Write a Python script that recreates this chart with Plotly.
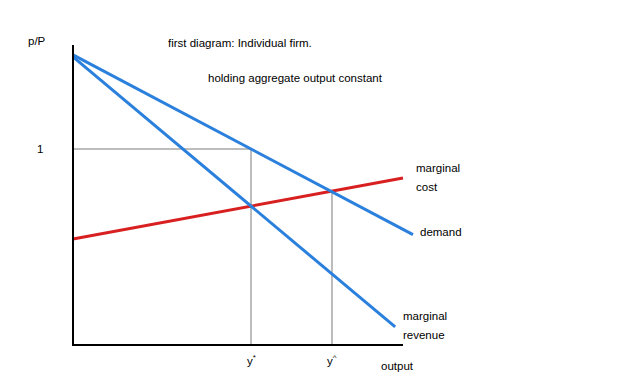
import plotly.graph_objects as go

# Data (economic units: output on x, p/P on y)
demand_x = [0.0, 1.91]
demand_y = [1.48, 0.563]
mr_x = [0.0, 1.81]
mr_y = [1.47, 0.092]
mc_x = [0.0, 1.854]
mc_y = [0.541, 0.852]
y_star = 1.0
y_hat = 1.455
price_one = 1.0
mc_at_yhat = 0.785
axis_x_max = 1.854
axis_y_max = 1.53

FONT = "Liberation Sans, Arial, sans-serif"
BLUE = "#2a80dc"
RED = "#d82020"
GRAY = "#7a7a7a"

fig = go.Figure()

# guide lines
fig.add_trace(go.Scatter(x=[0, y_star, y_star], y=[price_one, price_one, 0], mode="lines",
                         line=dict(color=GRAY, width=1), hoverinfo="skip"))
fig.add_trace(go.Scatter(x=[y_hat, y_hat], y=[mc_at_yhat, 0], mode="lines",
                         line=dict(color=GRAY, width=1), hoverinfo="skip"))

# curves
fig.add_trace(go.Scatter(x=mc_x, y=mc_y, mode="lines", line=dict(color=RED, width=3)))
fig.add_trace(go.Scatter(x=demand_x, y=demand_y, mode="lines", line=dict(color=BLUE, width=3)))
fig.add_trace(go.Scatter(x=mr_x, y=mr_y, mode="lines", line=dict(color=BLUE, width=3)))

# axes
fig.add_trace(go.Scatter(x=[0, 0, axis_x_max], y=[axis_y_max, 0, 0], mode="lines",
                         line=dict(color="black", width=2), hoverinfo="skip"))

# pixel mapping: x px = 73 + 178*x ; y px = 345 - 196*y
xr = [-73 / 178, (640 - 73) / 178]
yr = [(345 - 391) / 196, 345 / 196]

def px_x(p):
    return (p - 73) / 178

def px_y(p):
    return (345 - p) / 196

fnt = dict(family=FONT, size=11.5, color="#000000")

def lab(xp, yp, text, xanchor="left"):
    return dict(x=px_x(xp), y=px_y(yp), text=text, xanchor=xanchor, yanchor="middle",
                showarrow=False, font=fnt)

ann = [
    lab(37, 41, "p/P", "center"),
    dict(x=px_x(40), y=price_one, text="1", xanchor="center", yanchor="middle", showarrow=False, font=fnt),
    lab(166, 43, "first diagram: Individual firm."),
    lab(206, 78, "holding aggregate output constant"),
    lab(414, 168, "marginal"),
    lab(414, 187, "cost"),
    lab(418, 232, "demand"),
    lab(401, 316, "marginal"),
    lab(401, 335, "revenue"),
    dict(x=y_star, y=px_y(360), text="y<sup>*</sup>", xanchor="center", yanchor="middle", showarrow=False, font=fnt),
    dict(x=y_hat, y=px_y(360), text="y<sup>^</sup>", xanchor="center", yanchor="middle", showarrow=False, font=fnt),
    lab(379, 366, "output"),
]

fig.update_layout(
    width=640, height=391,
    margin=dict(l=0, r=0, t=0, b=0),
    paper_bgcolor="white", plot_bgcolor="white",
    showlegend=False,
    xaxis=dict(range=xr, visible=False, fixedrange=True),
    yaxis=dict(range=yr, visible=False, fixedrange=True),
    annotations=ann,
)

fig.write_html("out.html")
